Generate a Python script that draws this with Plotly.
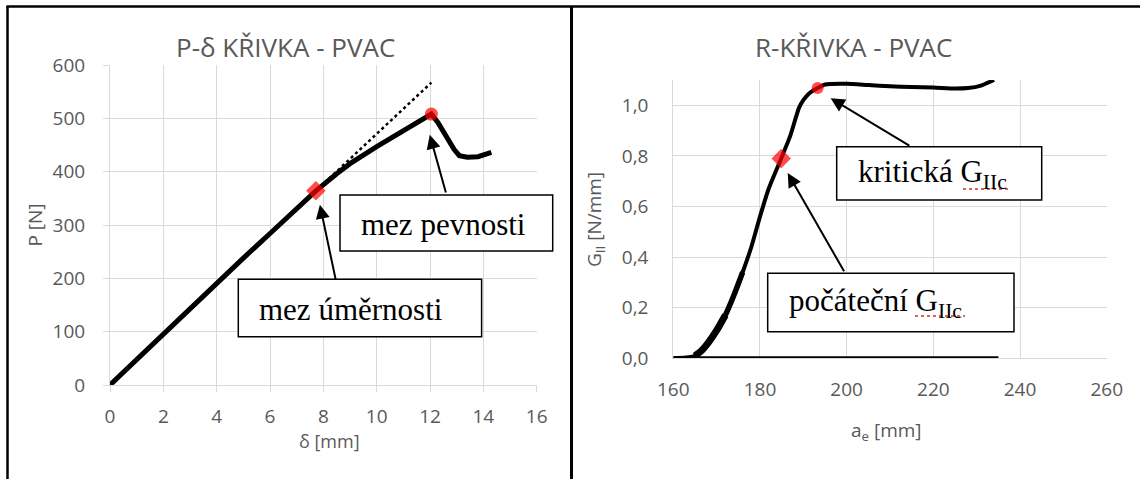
import plotly.graph_objects as go

# ---------------- data ----------------
# Left chart: P-delta curve
delta_mm = [0, 1, 2, 3, 4, 5, 6, 7, 7.72, 8.5, 9, 10, 11, 11.6, 12.05,
            12.3, 12.6, 12.9, 13.1, 13.4, 13.8, 14.0, 14.3]
load_N = [0, 48, 96, 143, 191, 238, 284, 330, 364, 396, 415, 447, 477, 495, 508,
          492, 466, 442, 430, 427, 428, 432, 436]
# linear (proportional) extension, dotted
lin_delta = [7.72, 12.05]
lin_load = [364, 567]
# key points: proportional limit (diamond), strength limit (circle)
key_delta = [7.72, 12.05]
key_load = [364, 508]

# Right chart: R-curve
a_e = [160, 163, 165, 166.5, 168, 170, 172, 174, 176, 178, 180, 182, 184.9,
       187, 189, 190, 191.2, 193.3, 195, 200, 205, 210, 215, 220, 225, 228, 231, 234]
G_II = [0, 0.003, 0.01, 0.03, 0.06, 0.11, 0.17, 0.25, 0.34, 0.44, 0.56, 0.67, 0.79,
        0.88, 0.99, 1.02, 1.045, 1.068, 1.082, 1.085, 1.08, 1.075, 1.072, 1.07, 1.066,
        1.068, 1.078, 1.1]
base_a = [160, 235]
base_G = [0, 0]
key_a = [184.9, 193.3]
key_G = [0.79, 1.068]

# tick labels
left_x_ticks = [0, 2, 4, 6, 8, 10, 12, 14, 16]
left_y_ticks = [0, 100, 200, 300, 400, 500, 600]
right_x_ticks = [160, 180, 200, 220, 240, 260]
right_y_ticks = [0.0, 0.2, 0.4, 0.6, 0.8, 1.0]
right_y_text = ["0,0", "0,2", "0,4", "0,6", "0,8", "1,0"]

# ---------------- layout helpers ----------------
W, H = 1140, 479


def fx(px):
    return px / W


def fy(py):
    return 1 - py / H


GRID = "#d9d9d9"
TXT = "#595959"
SANS = "Open Sans"
SERIF = "Liberation Serif"
RED = "#ff0000"

fig = go.Figure()

# left traces
fig.add_trace(go.Scatter(x=lin_delta, y=lin_load, mode="lines",
                         line=dict(color="black", width=2.5, dash="dot"),
                         xaxis="x", yaxis="y", showlegend=False))
fig.add_trace(go.Scatter(x=delta_mm, y=load_N, mode="lines",
                         line=dict(color="black", width=5),
                         xaxis="x", yaxis="y", showlegend=False))
fig.add_trace(go.Scatter(x=key_delta, y=key_load, mode="markers",
                         marker=dict(color=RED, size=[15, 13], symbol=["diamond", "circle"],
                                     line=dict(width=0)),
                         xaxis="x", yaxis="y", showlegend=False))

# right traces
fig.add_trace(go.Scatter(x=base_a, y=base_G, mode="lines",
                         line=dict(color="black", width=4),
                         xaxis="x2", yaxis="y2", showlegend=False, cliponaxis=False))
fig.add_trace(go.Scatter(x=a_e, y=G_II, mode="lines",
                         line=dict(color="black", width=4, shape="spline", smoothing=0.6),
                         xaxis="x2", yaxis="y2", showlegend=False, cliponaxis=False))
# the lower part of the measured curve is drawn thicker (dense points)
fig.add_trace(go.Scatter(x=a_e[2:9], y=G_II[2:9], mode="lines",
                         line=dict(color="black", width=5.5, shape="spline", smoothing=0.6),
                         xaxis="x2", yaxis="y2", showlegend=False))
fig.add_trace(go.Scatter(x=a_e[2:7], y=G_II[2:7], mode="lines",
                         line=dict(color="black", width=7, shape="spline", smoothing=0.6),
                         xaxis="x2", yaxis="y2", showlegend=False))
fig.add_trace(go.Scatter(x=key_a, y=key_G, mode="markers",
                         marker=dict(color=RED, size=[15, 12], symbol=["diamond", "circle"],
                                     line=dict(width=0)),
                         xaxis="x2", yaxis="y2", showlegend=False, cliponaxis=False))

axis_common = dict(showgrid=True, gridcolor=GRID, gridwidth=1, zeroline=False,
                   showline=True, linecolor=GRID, linewidth=1,
                   tickfont=dict(family=SANS, size=19, color=TXT), automargin=False)

fig.update_layout(
    width=W, height=H,
    margin=dict(l=0, r=0, t=0, b=0),
    paper_bgcolor="white", plot_bgcolor="white",
    separators=", ",
    xaxis=dict(domain=[fx(110), fx(536.7)], range=[0, 16], tickvals=left_x_ticks,
               ticks="outside", ticklen=6, tickcolor=GRID, ticklabelstandoff=8,
               anchor="y", **axis_common),
    yaxis=dict(domain=[fy(385), fy(65)], range=[0, 600], tickvals=left_y_ticks,
               ticks="outside", ticklen=6, tickcolor=GRID, ticklabelstandoff=14,
               anchor="x", **axis_common),
    xaxis2=dict(domain=[fx(673.3), fx(1106.7)], range=[160, 260], tickvals=right_x_ticks,
                ticks="", ticklabelstandoff=14, anchor="y2", **axis_common),
    yaxis2=dict(domain=[fy(358.3), fy(80)], range=[0, 1.1], tickvals=right_y_ticks,
                ticktext=right_y_text, ticks="", ticklabelstandoff=20, anchor="x2",
                **axis_common),
)

annotations = []


def txt(x, y, text, size, angle=0, family=SANS, color=TXT, xanchor="center"):
    annotations.append(dict(x=fx(x), y=fy(y), xref="paper", yref="paper", text=text,
                            showarrow=False, textangle=angle, xanchor=xanchor,
                            yanchor="middle", font=dict(family=family, size=size, color=color)))


# titles and axis titles
txt(285, 47, "P-δ KŘIVKA - PVAC", 26)
txt(853, 47, "R-KŘIVKA - PVAC", 26)
txt(34.6, 225, "P [N]", 19, angle=-90)
txt(329, 441, "δ [mm]", 18)
txt(595, 220, "G<sub>II</sub> [N/mm]", 19, angle=-90)
txt(886.7, 431, "a<sub>e</sub> [mm]", 19)

# text boxes (rectangles)
boxes = [
    (340, 195, 552.7, 251),
    (238.3, 279.3, 481.6, 336.7),
    (836.7, 146.7, 1041.7, 200),
    (767.7, 273.3, 1014, 331.7),
]
shapes = []
for (x0, y0, x1, y1) in boxes:
    shapes.append(dict(type="rect", xref="paper", yref="paper",
                       x0=fx(x0), x1=fx(x1), y0=fy(y1), y1=fy(y0),
                       fillcolor="white", line=dict(color="black", width=1.5), layer="above"))

txt(359, 224, "mez pevnosti", 31, family=SERIF, color="black", xanchor="left")
txt(256.5, 309, "mez úměrnosti", 31, family=SERIF, color="black", xanchor="left")
txt(856.5, 174, "kritická G<sub>IIc</sub>", 31, family=SERIF, color="black", xanchor="left")
txt(786.5, 303, "počáteční G<sub>IIc</sub>", 31, family=SERIF, color="black", xanchor="left")

# spell-check squiggles under G_IIc
for (x0, x1, yy) in [(963, 1011, 189), (915, 965, 316)]:
    shapes.append(dict(type="line", xref="paper", yref="paper",
                       x0=fx(x0), x1=fx(x1), y0=fy(yy), y1=fy(yy),
                       line=dict(color="#d03030", width=1.5, dash="dot"), layer="above"))

# arrows (head -> data point, tail -> box)
arrows = [
    ("x", "y", 11.99, 469, 12.61, 358),
    ("x", "y", 7.87, 338, 8.47, 196),
    ("x2", "y2", 196.3, 1.028, 214.8, 0.837),
    ("x2", "y2", 186.4, 0.732, 199.6, 0.338),
]
for (xr, yr, hx, hy, tx, ty) in arrows:
    annotations.append(dict(x=hx, y=hy, ax=tx, ay=ty, xref=xr, yref=yr, axref=xr, ayref=yr,
                            text="", showarrow=True, arrowhead=2, arrowsize=1.4,
                            arrowwidth=2, arrowcolor="black", standoff=0))

# outer frame lines
frame = [
    (6.5, 6.5, 1140, 6.5, 2.5),
    (7.5, 6, 7.5, 479, 2.5),
    (571.5, 6, 571.5, 479, 3),
]
for (x0, y0, x1, y1, w) in frame:
    shapes.append(dict(type="line", xref="paper", yref="paper",
                       x0=fx(x0), x1=fx(x1), y0=fy(y0), y1=fy(y1),
                       line=dict(color="black", width=w), layer="above"))

fig.update_layout(annotations=annotations, shapes=shapes)

fig.write_html("out.html",
               config={"displayModeBar": False},
               post_script="document.body.style.margin='0';"
                           "document.body.style.overflow='hidden';")
